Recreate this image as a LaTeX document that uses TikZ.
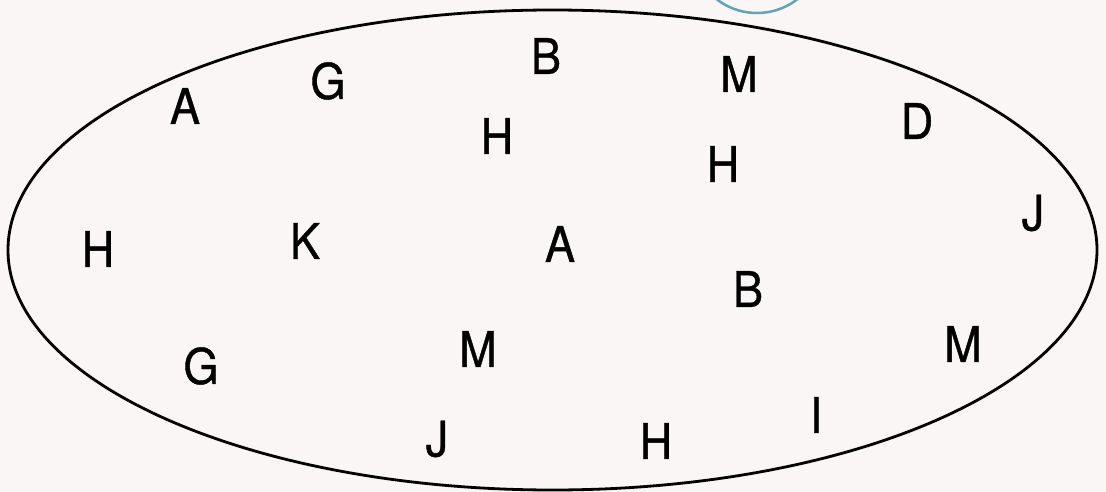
\documentclass[tikz,border=0pt]{standalone}
\usepackage{fontspec}
\setmainfont{TeX Gyre Heros}[FakeBold=0.8, FakeStretch=0.92]
\definecolor{paper}{RGB}{250,246,246}
\definecolor{ring}{RGB}{95,165,185}
\tikzset{
  letter/.style={inner sep=0pt, font=\fontsize{49}{49}\selectfont},
}
\begin{document}
\begin{tikzpicture}[x=1pt,y=-1pt]
            \useasboundingbox (0,0) rectangle (1106,492);
            \fill[paper] (0,0) rectangle (1106,492);
            \begin{scope}
              \clip (0,0) rectangle (1106,492);
              \draw[ring, line width=2.5pt] (757,-53) circle [radius=66];
            \end{scope}
            \draw[line width=2.8pt] (552.5,250) ellipse [x radius=544.5, y radius=240];
            % top row
            \node[letter] (b1) at (546,56) {B};
            \node[letter] (m1) at (739,74) {M};
            \node[letter] (g1) at (328,81) {G};
            \node[letter] (a1) at (185,106) {A};
            \node[letter] (d1) at (917,121) {D};
            \node[letter] (h1) at (497,136) {H};
            \node[letter] (h2) at (723,164) {H};
            % middle row
            \node[letter] (j1) at (1033,213) {J};
            \node[letter] (h3) at (98,249) {H};
            \node[letter] (k1) at (305,241) {K};
            \node[letter] (a2) at (560,244) {A};
            \node[letter] (b2) at (748,289) {B};
            % bottom row
            \node[letter] (m2) at (478,349) {M};
            \node[letter] (m3) at (963,344) {M};
            \node[letter] (g2) at (201,366) {G};
            \node[letter] (i1) at (816,415) {I};
            \node[letter] (j2) at (437,439) {J};
            \node[letter] (h4) at (656,441) {H};
\end{tikzpicture}
\end{document}
